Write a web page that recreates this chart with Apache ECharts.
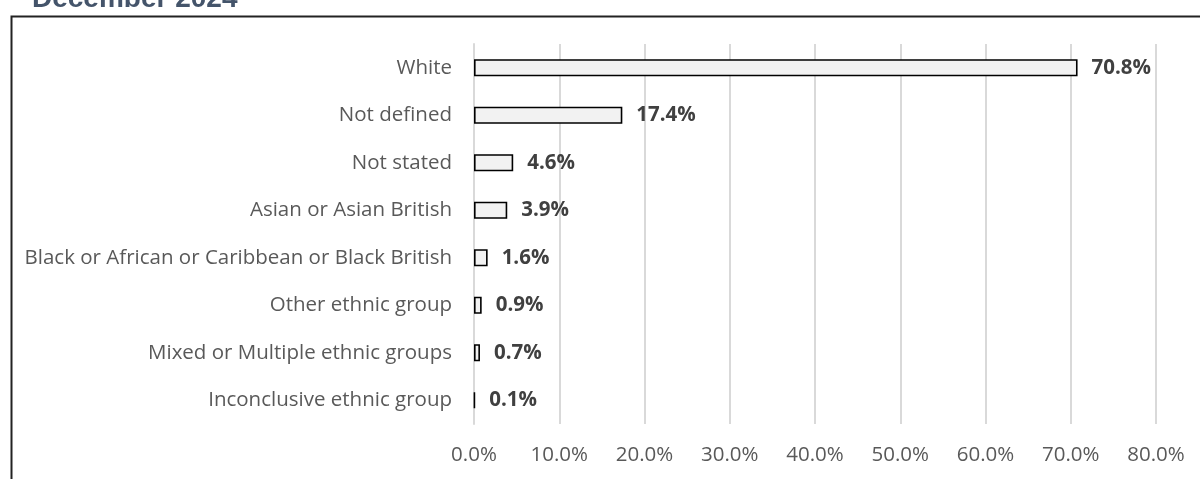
<!DOCTYPE html>
<html><head><meta charset="utf-8">
<script src="https://cdn.jsdelivr.net/npm/echarts@6/dist/echarts.min.js"></script>
<style>html,body{margin:0;padding:0;background:#fff}#c{width:1200px;height:479px}</style>
</head><body><div id="c"></div>
<script>
var categories = ['White','Not defined','Not stated','Asian or Asian British','Black or African or Caribbean or Black British','Other ethnic group','Mixed or Multiple ethnic groups','Inconclusive ethnic group'];
var values = [70.8, 17.4, 4.6, 3.9, 1.6, 0.9, 0.7, 0.1];
var titleText = 'December 2024';
var FONT = 'Open Sans';
var chart = echarts.init(document.getElementById('c'));
chart.setOption({
  animation: false,
  title: { text: titleText, left: 32, top: -15, padding: 0,
    textStyle: { fontFamily: 'Liberation Sans', fontWeight: 'bold', fontSize: 28, color: '#44546A' } },
  graphic: [{ type: 'rect', left: 9, top: 14, shape: { width: 1400, height: 700 },
    style: { fill: 'none', stroke: '#222', lineWidth: 2 }, silent: true }],
  grid: { left: 474, right: 44, top: 44, bottom: 55, containLabel: false },
  xAxis: { type: 'value', min: 0, max: 80, interval: 10,
    axisLine: { show: false }, axisTick: { show: false },
    splitLine: { show: true, lineStyle: { color: '#d9d9d9', width: 2 } },
    axisLabel: { margin: 21, fontFamily: FONT, fontSize: 20.5, color: '#595959',
      formatter: function (v) { return v.toFixed(1) + '%'; } } },
  yAxis: { type: 'category', inverse: true, data: categories,
    axisLine: { show: true, lineStyle: { color: '#d9d9d9', width: 2 } }, axisTick: { show: false },
    axisLabel: { margin: 22, fontFamily: FONT, fontSize: 20.5, color: '#595959' } },
  series: [{ type: 'bar', data: values, barWidth: 17,
    itemStyle: { color: '#f2f2f2', borderColor: '#000', borderWidth: 1.6 },
    label: { show: true, position: 'right', distance: 14, fontFamily: FONT, fontWeight: 'bold', fontSize: 20.5, color: '#404040',
      formatter: function (p) { return p.value.toFixed(1) + '%'; } } }]
});
</script></body></html>
